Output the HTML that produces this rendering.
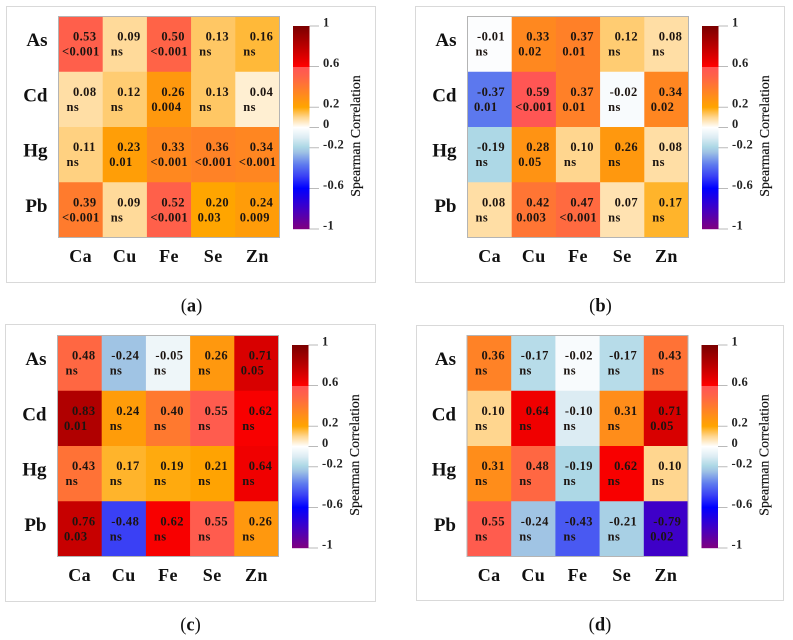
<!DOCTYPE html>
<html>
<head>
<meta charset="utf-8">
<title>Spearman correlation heatmaps</title>
<style>
html,body{margin:0;padding:0;background:#fff;width:793px;height:640px;overflow:hidden}
svg{display:block}
text{font-family:"Liberation Serif",serif}
</style>
</head>
<body>
<svg id="figure" width="793" height="640" viewBox="0 0 793 640" xmlns="http://www.w3.org/2000/svg"></svg>
<script>
const rowLabels = ["As", "Cd", "Hg", "Pb"];
const colLabels = ["Ca", "Cu", "Fe", "Se", "Zn"];
const colorbarTicks = [1, 0.6, 0.2, 0, -0.2, -0.6, -1];
const colorbarTitle = "Spearman Correlation";

const valuesA = [
  ["0.53", "0.09", "0.50", "0.13", "0.16"],
  ["0.08", "0.12", "0.26", "0.13", "0.04"],
  ["0.11", "0.23", "0.33", "0.36", "0.34"],
  ["0.39", "0.09", "0.52", "0.20", "0.24"]
];
const pvaluesA = [
  ["<0.001", "ns", "<0.001", "ns", "ns"],
  ["ns", "ns", "0.004", "ns", "ns"],
  ["ns", "0.01", "<0.001", "<0.001", "<0.001"],
  ["<0.001", "ns", "<0.001", "0.03", "0.009"]
];
const valuesB = [
  ["-0.01", "0.33", "0.37", "0.12", "0.08"],
  ["-0.37", "0.59", "0.37", "-0.02", "0.34"],
  ["-0.19", "0.28", "0.10", "0.26", "0.08"],
  ["0.08", "0.42", "0.47", "0.07", "0.17"]
];
const pvaluesB = [
  ["ns", "0.02", "0.01", "ns", "ns"],
  ["0.01", "<0.001", "0.01", "ns", "0.02"],
  ["ns", "0.05", "ns", "ns", "ns"],
  ["ns", "0.003", "<0.001", "ns", "ns"]
];
const valuesC = [
  ["0.48", "-0.24", "-0.05", "0.26", "0.71"],
  ["0.83", "0.24", "0.40", "0.55", "0.62"],
  ["0.43", "0.17", "0.19", "0.21", "0.64"],
  ["0.76", "-0.48", "0.62", "0.55", "0.26"]
];
const pvaluesC = [
  ["ns", "ns", "ns", "ns", "0.05"],
  ["0.01", "ns", "ns", "ns", "ns"],
  ["ns", "ns", "ns", "ns", "ns"],
  ["0.03", "ns", "ns", "ns", "ns"]
];
const valuesD = [
  ["0.36", "-0.17", "-0.02", "-0.17", "0.43"],
  ["0.10", "0.64", "-0.10", "0.31", "0.71"],
  ["0.31", "0.48", "-0.19", "0.62", "0.10"],
  ["0.55", "-0.24", "-0.43", "-0.21", "-0.79"]
];
const pvaluesD = [
  ["ns", "ns", "ns", "ns", "ns"],
  ["ns", "ns", "ns", "ns", "0.05"],
  ["ns", "ns", "ns", "ns", "ns"],
  ["ns", "ns", "ns", "ns", "0.02"]
];

const NS = "http://www.w3.org/2000/svg";
const svg = document.getElementById("figure");

const colorStops = [
  [-1, [128, 0, 128]], [-0.79, [62, 0, 200]], [-0.6, [0, 0, 255]], [-0.48, [58, 64, 245]],
  [-0.37, [92, 120, 238]], [-0.24, [160, 196, 228]], [-0.19, [173, 216, 230]], [-0.1, [220, 236, 243]],
  [0, [255, 255, 255]], [0.1, [255, 214, 143]], [0.2, [255, 165, 0]], [0.5, [255, 99, 71]],
  [0.595, [255, 85, 85]], [0.6, [255, 0, 0]], [0.64, [240, 0, 0]], [0.71, [216, 0, 0]],
  [0.83, [176, 0, 0]], [1, [122, 0, 0]]
];

function colorScale(v) {
  for (let i = 1; i < colorStops.length; i++) {
    const a = colorStops[i - 1], b = colorStops[i];
    if (v <= b[0]) {
      const t = (v - a[0]) / (b[0] - a[0]);
      const c = a[1].map((x, k) => Math.round(x + (b[1][k] - x) * t));
      return "rgb(" + c.join(",") + ")";
    }
  }
  return "rgb(122,0,0)";
}

function el(tag, attrs, parent, txt) {
  const e = document.createElementNS(NS, tag);
  for (const k in attrs) e.setAttribute(k, attrs[k]);
  if (txt !== undefined) e.textContent = txt;
  parent.appendChild(e);
  return e;
}

function pOffset(s) {
  if (s === "ns") return 8;
  if (s === "<0.001") return 3.5;
  if (s.length === 5) return 4.5;
  return 6.5;
}

function drawPanel(p) {
  const g = el("g", {transform: "translate(" + p.dx + "," + p.dy + ")"}, svg);
  
  

  const box = el("rect", {x: p.box[0], y: p.box[1], width: p.box[2], height: p.box[3], fill: "#fff", stroke: "#d9d9d9", "stroke-width": 1}, svg);
  
  
  svg.insertBefore(box, g);

  const left = 58.5, top = 16.5, size = 221;
  const bw = size / colLabels.length, bh = size / rowLabels.length;
  const xBand = i => left + i * bw;
  const yBand = i => top + i * bh;

  p.values.forEach((row, r) => {
    row.forEach((val, c) => {
      const cell = el("rect", {x: xBand(c), y: yBand(r), width: bw + 0.3, height: bh + 0.3, fill: colorScale(parseFloat(val))}, g);
      
      
    });
  });
  const frame = el("rect", {x: left, y: top, width: size, height: size, fill: "none", stroke: "#b4b4b4", "stroke-width": 1}, g);
  
  

  p.values.forEach((row, r) => {
    row.forEach((val, c) => {
      const vx = xBand(c) + (val[0] === "-" ? 9.5 : 14.5);
      const vt = el("text", {x: vx, y: yBand(r) + 24, "font-size": 12.5, "font-weight": 700, "letter-spacing": 0.4, fill: "#1c1410"}, g, val);
      
      
      const ps = p.pvalues[r][c];
      const pt = el("text", {x: xBand(c) + pOffset(ps), y: yBand(r) + 39, "font-size": 12.5, "font-weight": 700, "letter-spacing": 0.4, fill: "#1c1410"}, g, ps);
      
      
    });
  });

  rowLabels.forEach((name, r) => {
    const t = el("text", {x: 47.5, y: yBand(r) + 29.5, "font-size": 19, "font-weight": 700, "text-anchor": "end", fill: "#111"}, g, name);
    
    
  });
  colLabels.forEach((name, c) => {
    const t = el("text", {x: xBand(c) + bw / 2, y: 262, "font-size": 18, "font-weight": 700, "text-anchor": "middle", "letter-spacing": 0.4, fill: "#111"}, g, name);
    
    
  });

  const barX = 293, barW = 16.5, barTop = 26, barH = 203;
  const yBar = v => barTop + (1 - v) / 2 * barH;
  const bar = el("g", {}, g);
  
  
  for (let i = 0; i < barH; i++) {
    const v = 1 - 2 * (i + 0.5) / barH;
    el("rect", {x: barX, y: barTop + i, width: barW, height: 1.2, fill: colorScale(v)}, bar);
  }
  colorbarTicks.forEach(v => {
    const tick = el("line", {x1: barX + barW, x2: 319, y1: yBar(v), y2: yBar(v), stroke: "#a8a8a8", "stroke-width": 0.8}, g);
    
    
    const lab = el("text", {x: 323, y: yBar(v) + 0.5, "font-size": 12.5, "font-weight": 700, "letter-spacing": 0.3, fill: "#222"}, g, String(v));
    
    
  });
  const title = el("text", {transform: "translate(360,136) rotate(-90)", "font-size": 13.8, "font-weight": 400, "text-anchor": "middle", stroke: "#222", "stroke-width": 0.2, fill: "#111"}, g, colorbarTitle);
  
  

  const cap = el("text", {x: 191.5, y: 311.5, "font-size": 18.5, "text-anchor": "middle", fill: "#111"}, g);
  
  
  el("tspan", {}, cap, "(");
  el("tspan", {"font-weight": 700}, cap, p.letter);
  el("tspan", {}, cap, ")");
}

drawPanel({letter: "a", dx: 0, dy: 0, box: [6.5, 6.5, 369, 276], values: valuesA, pvalues: pvaluesA});
drawPanel({letter: "b", dx: 409, dy: 0, box: [415.5, 6.5, 369, 276], values: valuesB, pvalues: pvaluesB});
drawPanel({letter: "c", dx: -1, dy: 319, box: [5.5, 324.5, 370, 277], values: valuesC, pvalues: pvaluesC});
drawPanel({letter: "d", dx: 408.5, dy: 319, box: [416.5, 325.5, 367, 275], values: valuesD, pvalues: pvaluesD});
</script>
</body>
</html>
